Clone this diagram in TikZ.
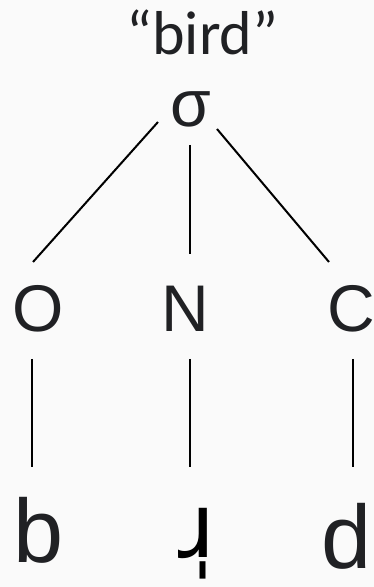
\documentclass[tikz,border=0pt]{standalone}
\usepackage{fontspec}
\setmainfont{Liberation Sans}
\newfontfamily\carl{Carlito}
\newfontfamily\dvs{DejaVu Sans}
\usetikzlibrary{calc}
\definecolor{bg}{HTML}{FAFAFA}
\definecolor{ink}{HTML}{202124}
\begin{document}
\begin{tikzpicture}[x=1pt,y=1pt,
  lbl/.style={inner sep=0pt,anchor=base,text=ink},
  mid/.style={lbl,font=\fontsize{66}{70}\selectfont},
  big/.style={lbl,font=\fontsize{90}{94}\selectfont},
  edge/.style={line width=2pt,black}]
\fill[bg] (0,0) rectangle (374,587);
\useasboundingbox (0,0) rectangle (374,587);
\begin{scope}
\clip (0,0) rectangle (374,587);
\node[lbl,font=\carl\fontsize{62}{64}\selectfont] (bird) at (202.5,532) {“bird”};
\node[mid] (sig) at (191,460) {σ};
\node[mid] (O) at (38.5,255) {O};
\node[mid] (N) at (185.5,255) {N};
\node[mid] (C) at (351,255) {C};
\node[big] (b) at (39,24) {b};
\node[big,font=\dvs\fontsize{90}{94}\selectfont,text=black] (r) at (197,29) {ɹ̩};
\node[big] (d) at (347,19) {d};
\draw[edge] ($(sig.base)+(-33,5)$) -- ($(O.base)+(-5.5,70)$);
\draw[edge] ($(sig.base)+(-1,-18)$) -- ($(N.base)+(4.5,78)$);
\draw[edge] ($(sig.base)+(26,-2)$) -- ($(C.base)+(-22,70)$);
\draw[edge] ($(O.base)+(-6.2,-27)$) -- ($(b.base)+(-6.7,96)$);
\draw[edge] ($(N.base)+(4.5,-27)$) -- ($(r.base)+(-7,91)$);
\draw[edge] ($(C.base)+(2,-27)$) -- ($(d.base)+(6,101)$);
\end{scope}
\end{tikzpicture}
\end{document}
